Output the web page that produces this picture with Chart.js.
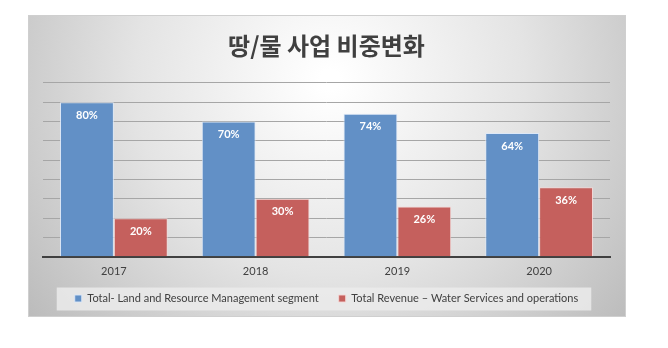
<!DOCTYPE html>
<html>
<head>
<meta charset="utf-8">
<script src="https://cdn.jsdelivr.net/npm/chart.js@4.4.0/dist/chart.umd.min.js"></script>
<style>
  html, body { margin: 0; padding: 0; background: #fff; }
  #wrap { width: 668px; height: 348px; }
</style>
</head>
<body>
<div id="wrap"><canvas id="myChart" width="668" height="348"></canvas></div>
<script>
const years = ['2017', '2018', '2019', '2020'];
const landShare = [80, 70, 74, 64];
const waterShare = [20, 30, 26, 36];
const seriesNames = ['Total- Land and Resource Management segment', 'Total Revenue \u2013 Water Services and operations'];

const fontFamily = "Lato, 'Noto Sans CJK KR', sans-serif";

// gray panel + legend box behind everything
const panelBg = {
    id: 'panelBg',
    afterLayout(chart) {
        // pull the legend up a little, closer to the year labels
        chart.legend.top -= 13;
        chart.legend.bottom -= 13;
    },
    beforeDraw(chart) {
        const ctx = chart.ctx;
        ctx.save();
        const g = ctx.createRadialGradient(330, 80, 10, 330, 80, 380);
        g.addColorStop(0, '#ffffff');
        g.addColorStop(0.5, '#e4e4e4');
        g.addColorStop(1, '#bcbcbc');
        ctx.fillStyle = g;
        ctx.fillRect(28, 15, 598, 302);
        ctx.strokeStyle = '#cfcfcf';
        ctx.lineWidth = 1;
        ctx.strokeRect(28.5, 15.5, 597, 301);

        const boxes = chart.legend.legendHitBoxes;
        if (boxes && boxes.length) {
            const first = boxes[0], last = boxes[boxes.length - 1];
            const x0 = first.left - 18;
            const x1 = last.left + last.width + 13;
            const yc = first.top + first.height / 2;
            ctx.fillStyle = 'rgba(235,235,235,0.85)';
            ctx.fillRect(x0, yc - 11, x1 - x0, 23);
        }
        ctx.restore();
    }
};

// white percentage labels inside the top of each bar
const barLabels = {
    id: 'barLabels',
    afterDatasetsDraw(chart) {
        const ctx = chart.ctx;
        ctx.save();
        ctx.font = "bold 11px Lato, sans-serif";
        ctx.fillStyle = '#ffffff';
        ctx.textAlign = 'center';
        ctx.textBaseline = 'middle';
        chart.data.datasets.forEach((ds, i) => {
            chart.getDatasetMeta(i).data.forEach((bar, j) => {
                ctx.fillText(ds.data[j] + '%', bar.x, bar.y + 13);
            });
        });
        ctx.restore();
    }
};

let ctx = document.getElementById('myChart').getContext('2d');
let myChart = new Chart(ctx, {
    type: 'bar',
    data: {
        labels: years,
        datasets: [{
            label: seriesNames[0],
            data: landShare,
            backgroundColor: '#6290c6',
            borderColor: 'rgba(220,232,248,0.9)',
            borderWidth: 1
        }, {
            label: seriesNames[1],
            data: waterShare,
            backgroundColor: '#c5605d',
            borderColor: 'rgba(245,215,214,0.9)',
            borderWidth: 1
        }]
    },
    options: {
        responsive: false,
        animation: false,
        layout: {
            padding: { left: 43, right: 58, top: 31, bottom: 21 }
        },
        datasets: {
            bar: { categoryPercentage: 0.76, barPercentage: 1.0 }
        },
        scales: {
            x: {
                grid: { display: false, drawTicks: false },
                border: { display: true, color: '#404040', width: 2 },
                ticks: {
                    color: '#404040',
                    font: { family: fontFamily, size: 11 },
                    padding: 8
                }
            },
            y: {
                min: 0,
                max: 90,
                ticks: { display: false, stepSize: 10 },
                grid: { color: '#a6a6a6', drawTicks: false },
                border: { display: false }
            }
        },
        plugins: {
            title: {
                display: true,
                text: '땅/물 사업 비중변화',
                color: '#404040',
                font: { family: "'Noto Sans CJK KR', sans-serif", size: 24, weight: 'bold' },
                padding: { top: 0, bottom: 23 }
            },
            legend: {
                position: 'bottom',
                labels: {
                    color: '#404040',
                    font: { family: fontFamily, size: 11 },
                    boxWidth: 7,
                    boxHeight: 7,
                    padding: 20
                }
            },
            tooltip: { enabled: false }
        }
    },
    plugins: [panelBg, barLabels]
});
</script>
</body>
</html>
